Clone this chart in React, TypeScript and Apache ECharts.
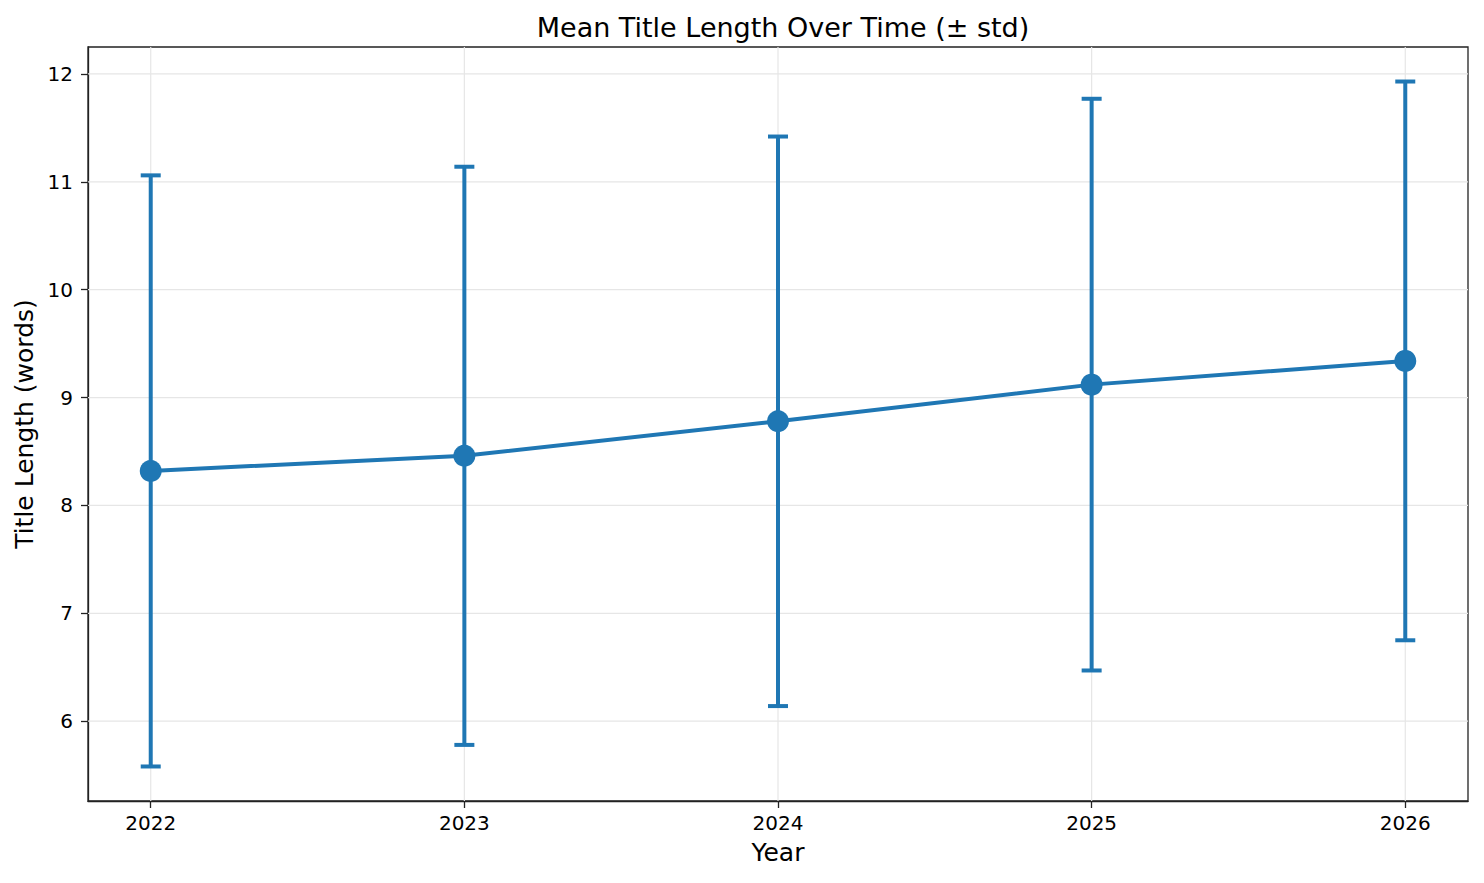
import React, { useEffect, useRef } from "react";
import * as echarts from "echarts";

const years = [2022, 2023, 2024, 2025, 2026];
const means = [8.32, 8.46, 8.78, 9.12, 9.34];
const stds = [2.74, 2.68, 2.64, 2.65, 2.59];
const yTicks = [6, 7, 8, 9, 10, 11, 12];
const xMin = 2021.8;
const xMax = 2026.2;
const yMin = 5.26;
const yMax = 12.25;

const BLUE = "#1f77b4";
const GRID = "#e6e6e6";
const AXIS = "#222222";
const FONT = "DejaVu Sans";

export default function App() {
  const ref = useRef<HTMLDivElement>(null);
  useEffect(() => {
    if (!ref.current) return;
    const chart = echarts.init(ref.current, undefined, { renderer: "svg" });
    const errData = years.map((y, i) => [y, means[i] - stds[i], means[i] + stds[i]]);
    chart.setOption({
      animation: false,
      backgroundColor: "#ffffff",
      title: {
        text: "Mean Title Length Over Time (± std)",
        left: 778,
        textAlign: "center",
        top: 9,
        textStyle: { fontFamily: FONT, fontSize: 27, fontWeight: "normal", color: "#000" },
      },
      grid: {
        left: 88,
        right: 16,
        top: 47,
        bottom: 82,
        show: true,
        borderColor: AXIS,
        borderWidth: 1.3,
        backgroundColor: "transparent",
      },
      xAxis: {
        type: "value",
        min: xMin,
        max: xMax,
        name: "Year",
        nameLocation: "middle",
        nameGap: 39,
        nameTextStyle: { fontFamily: FONT, fontSize: 25, color: "#000" },
        axisLine: { show: true, lineStyle: { color: AXIS, width: 1.3 } },
        axisTick: { show: true, customValues: years, length: 7, lineStyle: { color: AXIS, width: 1.3 } },
        axisLabel: {
          customValues: years,
          formatter: (v: number) => String(v),
          fontFamily: FONT,
          fontSize: 20,
          color: "#000",
          margin: 12,
        },
        splitLine: { show: false },
      },
      yAxis: {
        type: "value",
        min: yMin,
        max: yMax,
        name: "Title Length (words)",
        nameLocation: "middle",
        nameGap: 51,
        nameTextStyle: { fontFamily: FONT, fontSize: 25, color: "#000" },
        axisLine: { show: true, lineStyle: { color: AXIS, width: 1.3 } },
        axisTick: { show: true, customValues: yTicks, length: 7, lineStyle: { color: AXIS, width: 1.3 } },
        axisLabel: {
          customValues: yTicks,
          formatter: (v: number) => String(v),
          fontFamily: FONT,
          fontSize: 20,
          color: "#000",
          margin: 15,
        },
        splitLine: { show: false },
      },
      series: [
        {
          type: "custom",
          z: 1,
          silent: true,
          data: years.map((y) => [y]),
          encode: { x: 0 },
          renderItem: (params: any, api: any) => {
            const cs = params.coordSys;
            const x = api.coord([api.value(0), yMin])[0];
            return {
              type: "line",
              shape: { x1: x, y1: cs.y, x2: x, y2: cs.y + cs.height },
              style: { stroke: GRID, lineWidth: 1.2 },
            };
          },
        },
        {
          type: "custom",
          z: 1,
          silent: true,
          data: yTicks.map((t) => [t]),
          encode: { y: 0 },
          renderItem: (params: any, api: any) => {
            const cs = params.coordSys;
            const y = api.coord([xMin, api.value(0)])[1];
            return {
              type: "line",
              shape: { x1: cs.x, y1: y, x2: cs.x + cs.width, y2: y },
              style: { stroke: GRID, lineWidth: 1.2 },
            };
          },
        },
        {
          type: "custom",
          z: 2,
          silent: true,
          data: errData,
          encode: { x: 0, y: [1, 2] },
          renderItem: (params: any, api: any) => {
            const lo = api.coord([api.value(0), api.value(1)]);
            const hi = api.coord([api.value(0), api.value(2)]);
            const cap = 10;
            const st = { stroke: BLUE, lineWidth: 4 };
            return {
              type: "group",
              children: [
                { type: "line", shape: { x1: lo[0], y1: lo[1], x2: hi[0], y2: hi[1] }, style: st },
                { type: "line", shape: { x1: lo[0] - cap, y1: lo[1], x2: lo[0] + cap, y2: lo[1] }, style: st },
                { type: "line", shape: { x1: hi[0] - cap, y1: hi[1], x2: hi[0] + cap, y2: hi[1] }, style: st },
              ],
            };
          },
        },
        {
          type: "line",
          z: 3,
          data: years.map((y, i) => [y, means[i]]),
          symbol: "circle",
          symbolSize: 22,
          showSymbol: true,
          lineStyle: { color: BLUE, width: 4 },
          itemStyle: { color: BLUE },
        },
      ],
    });
    return () => chart.dispose();
  }, []);
  return (
    <div
      ref={ref}
      style={{ position: "fixed", left: 0, top: 0, width: 1484, height: 883 }}
    />
  );
}
